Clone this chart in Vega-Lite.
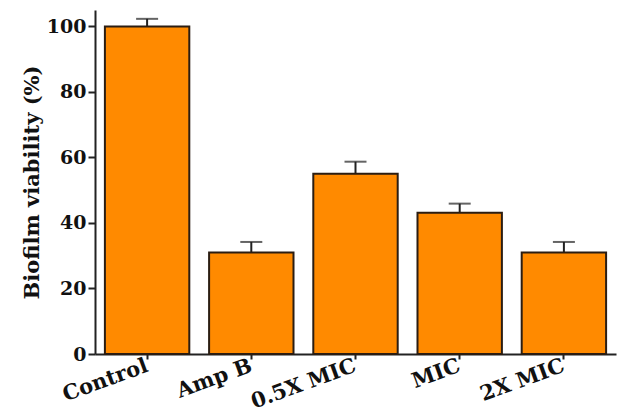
{
  "$schema": "https://vega.github.io/schema/vega-lite/v6.json",
  "width": 521,
  "height": 344,
  "autosize": {"type": "none"},
  "padding": {"left": 95, "top": 10, "right": 2, "bottom": 63},
  "background": "white",
  "config": {
    "view": {"stroke": null},
    "axis": {
      "labelFont": "DejaVu Serif",
      "labelFontWeight": "bold",
      "titleFont": "DejaVu Serif",
      "titleFontWeight": "bold",
      "labelColor": "#111111",
      "titleColor": "#111111",
      "domainColor": "#222222",
      "tickColor": "#222222",
      "domainWidth": 2,
      "tickWidth": 2,
      "grid": false
    }
  },
  "data": {
    "values": [
      {"group": "Control", "value": 100, "upper": 102.3},
      {"group": "Amp B", "value": 31, "upper": 34.2},
      {"group": "0.5X MIC", "value": 55, "upper": 58.7},
      {"group": "MIC", "value": 43.1, "upper": 45.9},
      {"group": "2X MIC", "value": 31, "upper": 34.2}
    ]
  },
  "layer": [
    {
      "mark": {"type": "rule", "color": "#222222", "strokeWidth": 2},
      "encoding": {
        "x": {"field": "group", "type": "nominal", "sort": null},
        "y": {"field": "value", "type": "quantitative"},
        "y2": {"field": "upper"}
      }
    },
    {
      "mark": {"type": "tick", "color": "#222222", "thickness": 2, "size": 22},
      "encoding": {
        "x": {"field": "group", "type": "nominal", "sort": null},
        "y": {"field": "upper", "type": "quantitative"}
      }
    },
    {
      "mark": {"type": "bar", "fill": "#FF8A00", "stroke": "#2b1d12", "strokeWidth": 2},
      "encoding": {
        "x": {
          "field": "group",
          "type": "nominal",
          "sort": null,
          "scale": {"paddingInner": 0.19, "paddingOuter": 0.095},
          "axis": {
            "title": null,
            "labelAngle": -20,
            "labelFontSize": 21,
            "tickSize": 5,
            "labelPadding": 6
          }
        },
        "y": {
          "field": "value",
          "type": "quantitative",
          "scale": {"domain": [0, 105], "nice": false},
          "axis": {
            "title": "Biofilm viability (%)",
            "titleFontSize": 21,
            "titlePadding": 4,
            "labelFontSize": 19,
            "labelPadding": 2,
            "values": [0, 10, 20, 30, 40, 50, 60, 70, 80, 90, 100],
            "labelExpr": "datum.value % 20 === 0 ? datum.label : ''",
            "tickSize": {"condition": {"test": "datum.value % 20 !== 0", "value": 4}, "value": 7}
          }
        }
      }
    }
  ]
}
